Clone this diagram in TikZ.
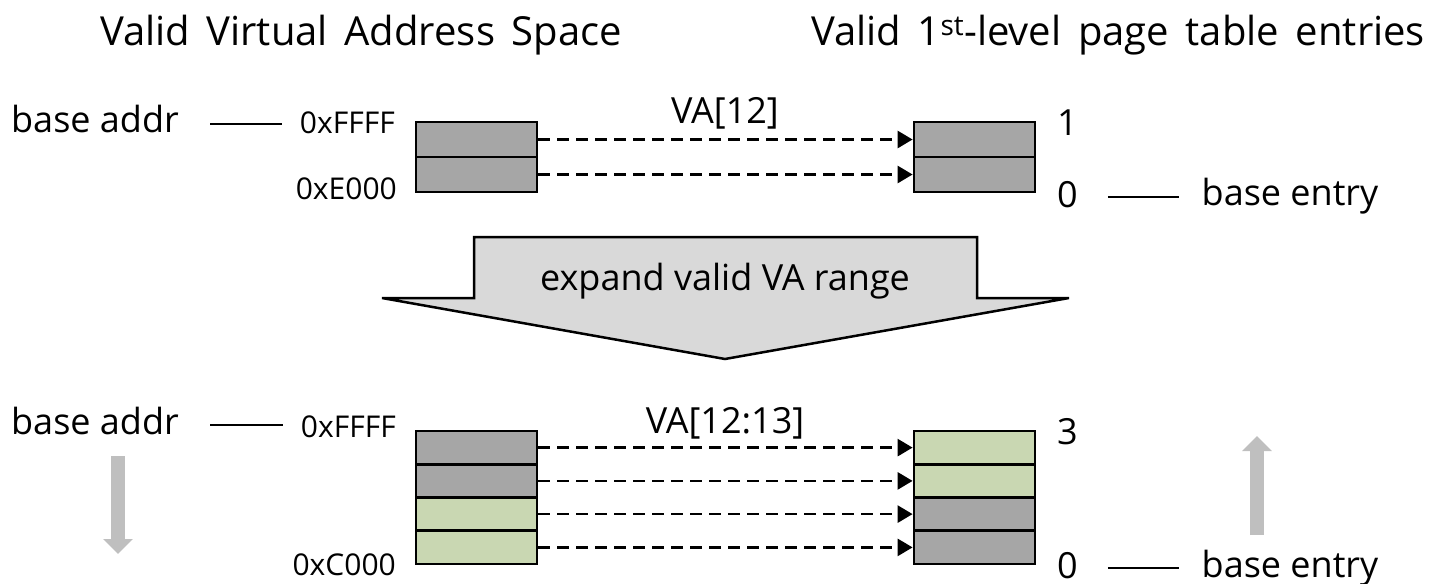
\documentclass[tikz,border=0pt]{standalone}
\usepackage{fontspec}
\setmainfont{Open Sans}
\newfontfamily\headfont[WordSpace=1.6]{Open Sans}
\usetikzlibrary{arrows.meta, positioning}

\definecolor{cellgray}{HTML}{A6A6A6}
\definecolor{cellgreen}{HTML}{C9D7B2}
\definecolor{bandgray}{HTML}{D9D9D9}
\definecolor{hintgray}{HTML}{BFBFBF}

\begin{document}
\begin{tikzpicture}[
        x=1pt, y=-1pt,
        txt/.style={font=\fontsize{36}{40}\selectfont, inner sep=0pt},
        head/.style={font=\headfont\fontsize{40}{44}\selectfont, inner sep=0pt},
        addr/.style={font=\fontsize{30}{34}\selectfont, inner sep=0pt},
        cell/.style={draw, line width=2.8pt, fill=cellgray,
                     minimum width=121pt, minimum height=35pt, inner sep=0pt},
        hcell/.style={cell, minimum height=33.25pt},
        newcell/.style={hcell, fill=cellgreen},
        link/.style={line width=2.7pt, dash pattern=on 12pt off 7pt,
                     -{Triangle[length=15pt, width=17pt]}},
        tick/.style={line width=2.2pt},
        hint/.style={draw=hintgray, line width=14pt,
                     -{Triangle[length=15pt, width=29pt]}},
        band/.style={draw, line width=2.5pt, fill=bandgray}
    ]
        \useasboundingbox (0,0) rectangle (1436,584);

        % column titles
        \node[head, anchor=base] (vtitle) at (361,45) {Valid Virtual Address Space};
        \node[head, anchor=base] (ptitle) at (1118,45) {Valid 1\textsuperscript{st}-level page table entries};

        % before: one 1st-level entry per 0x1000 slot
        \node[cell] (va1) at (476.5,139.5) {};
        \node[cell] (va0) at (476.5,174.5) {};
        \node[cell] (pe1) at (974.5,139.5) {};
        \node[cell] (pe0) at (974.5,174.5) {};

        \node[txt, anchor=base] (ba1) at (95,132) {base addr};
        \node[addr, anchor=base east] (ff1) at (395,133) {0xFFFF};
        \node[addr, anchor=base east] (e000) at (397,199) {0xE000};
        \node[txt, anchor=base west] (one) at (1057,135) {1};
        \node[txt, anchor=base west] (z1) at (1057,207) {0};
        \node[txt, anchor=base] (be1) at (1290,205) {base entry};
        \node[txt, anchor=base] (idx1) at (725,123) {VA[12]};

        \draw[tick, shorten <=31pt, shorten >=18pt] ([yshift=8pt]ba1.base east) -- ([yshift=8pt]ba1.base east -| ff1.west);
        \draw[tick, shorten <=30pt, shorten >=22pt] ([yshift=10pt]z1.base east) -- ([yshift=10pt]z1.base east -| be1.west);

        \draw[link] (va1.east) -- (pe1.west);
        \draw[link] (va0.east) -- (pe0.west);

        % the step in between
        \draw[band] (474,237) -- (977,237) -- (977,298) -- (1069,298) -- (725,359)
            -- (382,298) -- (474,298) -- cycle;
        \node[txt, anchor=base] (expand) at (725,290) {expand valid VA range};

        % after: two VA bits select the entry
        \node[hcell] (vb3) at (476.5,447.6) {};
        \node[hcell] (vb2) at (476.5,480.9) {};
        \node[newcell] (vb1) at (476.5,514.1) {};
        \node[newcell] (vb0) at (476.5,547.4) {};
        \node[newcell] (pf3) at (974.5,447.6) {};
        \node[newcell] (pf2) at (974.5,480.9) {};
        \node[hcell] (pf1) at (974.5,514.1) {};
        \node[hcell] (pf0) at (974.5,547.4) {};

        \node[txt, anchor=base] (ba2) at (95,434) {base addr};
        \node[addr, anchor=base east] (ff2) at (396,437) {0xFFFF};
        \node[addr, anchor=base east] (c000) at (396,575) {0xC000};
        \node[txt, anchor=base west] (three) at (1057,444) {3};
        \node[txt, anchor=base west] (z2) at (1057,578) {0};
        \node[txt, anchor=base] (be2) at (1290,577) {base entry};
        \node[txt, anchor=base] (idx2) at (725,433) {VA[12:13]};

        \draw[tick, shorten <=31pt, shorten >=18pt] ([yshift=9pt]ba2.base east) -- ([yshift=9pt]ba2.base east -| ff2.west);
        \draw[tick, shorten <=30pt, shorten >=22pt] ([yshift=10pt]z2.base east) -- ([yshift=10pt]z2.base east -| be2.west);

        \draw[link] (vb3.east) -- (pf3.west);
        \draw[link] (vb2.east) -- (pf2.west);
        \draw[link] (vb1.east) -- (pf1.west);
        \draw[link] (vb0.east) -- (pf0.west);

        % base addr moves down, base entry moves up
        \draw[hint] (118,456) -- (118,554);
        \draw[hint] (1257,535) -- (1257,436);
    \end{tikzpicture}
\end{document}
